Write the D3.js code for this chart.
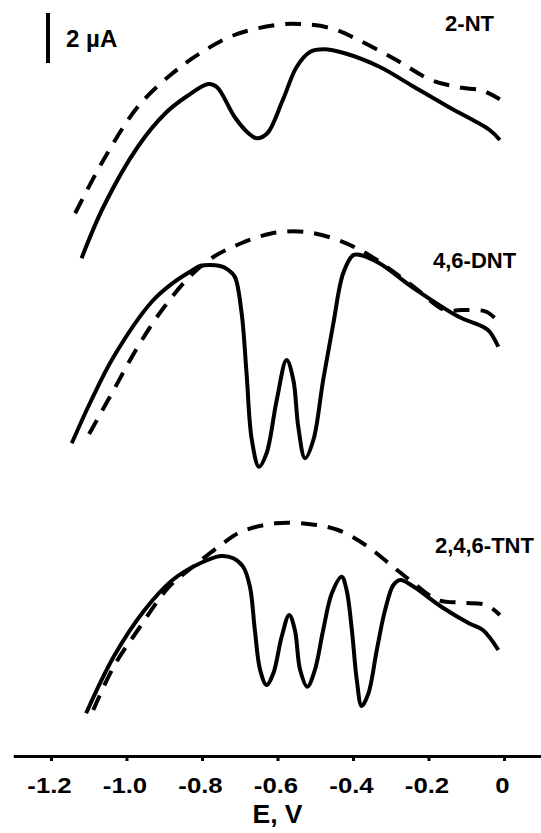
<!DOCTYPE html>
<html>
<head>
<meta charset="utf-8">
<script src="https://cdn.jsdelivr.net/npm/d3@7"></script>
<style>
  html, body { margin: 0; padding: 0; background: #fff; }
  svg { display: block; }
  text { font-family: "Liberation Sans", Arial, Helvetica, sans-serif; font-weight: bold; fill: #000; }
</style>
</head>
<body>
<svg id="chart" width="541" height="833"></svg>
<script>
// ---- Data (E in V, current in µA on a stacked/offset scale) ----
const xTicks = [-1.2, -1.0, -0.8, -0.6, -0.4, -0.2, 0];
const xTickLabels = ["-1.2", "-1.0", "-0.8", "-0.6", "-0.4", "-0.2", "0"];
const xAxisTitle = "E, V";
const scaleBarLabel = "2 µA";
const scaleBarSpan = 2;        // µA
const scaleBarBase = 27.72;    // µA (bottom of scale bar)
const traceLabels = ["2-NT", "4,6-DNT", "2,4,6-TNT"];
const traceLabelLevel = [29.0, 19.52, 8.12]; // µA level of label baselines
const traceLabelE = [-0.156, -0.188, -0.183];  // V at label start

// 2-NT
const ntSolidE = [-1.119, -1.061, -0.970, -0.897, -0.842, -0.783, -0.760, -0.714, -0.677, -0.655, -0.627, -0.586, -0.549, -0.513, -0.477, -0.422, -0.330, -0.239, -0.148, -0.038, -0.011];
const ntSolidI = [19.91, 21.97, 24.37, 25.71, 26.37, 26.88, 26.75, 25.57, 24.91, 24.71, 24.91, 26.24, 27.57, 28.17, 28.27, 28.11, 27.57, 26.77, 25.97, 25.04, 24.64];
const ntDashE = [-1.136, -1.061, -0.970, -0.878, -0.805, -0.714, -0.604, -0.540, -0.458, -0.385, -0.285, -0.193, -0.120, -0.056, -0.011];
const ntDashI = [21.71, 23.84, 25.97, 27.31, 28.11, 28.84, 29.24, 29.28, 29.11, 28.64, 27.84, 27.04, 26.75, 26.61, 26.27];

// 4,6-DNT
const dntSolidE = [-1.145, -1.097, -1.034, -0.933, -0.878, -0.824, -0.805, -0.752, -0.730, -0.713, -0.695, -0.682, -0.668, -0.649, -0.629, -0.602, -0.576, -0.558, -0.545, -0.527, -0.505, -0.479, -0.452, -0.426, -0.399, -0.381, -0.330, -0.239, -0.120, -0.056, -0.038, -0.015];
const dntSolidI = [12.51, 14.11, 15.97, 18.17, 18.91, 19.44, 19.60, 19.60, 19.44, 19.17, 17.71, 15.31, 12.64, 11.57, 12.11, 14.24, 15.84, 15.04, 13.17, 11.91, 12.64, 15.04, 17.31, 19.31, 20.04, 20.04, 19.71, 18.71, 17.57, 17.17, 16.97, 16.37];
const dntDashE = [-1.099, -1.034, -0.970, -0.906, -0.833, -0.769, -0.696, -0.614, -0.531, -0.440, -0.358, -0.239, -0.157, -0.111, -0.047, -0.011];
const dntDashI = [12.88, 14.64, 16.37, 17.84, 19.17, 19.97, 20.51, 20.91, 20.97, 20.64, 20.04, 18.77, 17.84, 17.84, 17.77, 17.31];

// 2,4,6-TNT
const tntSolidE = [-1.107, -1.034, -0.952, -0.878, -0.805, -0.750, -0.717, -0.691, -0.673, -0.660, -0.646, -0.629, -0.611, -0.589, -0.569, -0.554, -0.540, -0.521, -0.501, -0.479, -0.456, -0.430, -0.417, -0.403, -0.390, -0.377, -0.359, -0.337, -0.315, -0.293, -0.275, -0.239, -0.166, -0.093, -0.056, -0.015];
const tntSolidI = [1.71, 3.97, 5.84, 7.04, 7.71, 8.00, 7.91, 7.57, 6.77, 5.04, 3.44, 2.84, 3.31, 4.77, 5.64, 5.04, 3.44, 2.77, 3.44, 5.04, 6.51, 7.17, 6.64, 5.04, 3.04, 2.00, 2.51, 4.24, 5.84, 6.84, 7.04, 6.77, 5.97, 5.31, 5.04, 4.24];
const tntDashE = [-1.088, -1.034, -0.970, -0.887, -0.824, -0.750, -0.696, -0.604, -0.513, -0.440, -0.367, -0.294, -0.239, -0.175, -0.111, -0.047, -0.011];
const tntDashI = [1.84, 3.57, 5.04, 6.77, 7.57, 8.44, 8.97, 9.31, 9.27, 9.04, 8.44, 7.57, 6.91, 6.24, 6.13, 6.04, 5.64];

// ---- Drawing ----
const svg = d3.select("#chart");
const x = d3.scaleLinear().domain([-1.3, 0.1]).range([13.25, 541.75]);
const y = d3.scaleLinear().domain([0, 30]).range([756, 6]);

const zip = (E, I) => E.map((e, i) => [e, I[i]]);
const line = d3.line()
  .x(d => x(d[0]))
  .y(d => y(d[1]))
  .curve(d3.curveCatmullRom.alpha(0.5));

const traces = [
  { E: ntSolidE, I: ntSolidI, dashed: false },
  { E: ntDashE, I: ntDashI, dashed: true },
  { E: dntSolidE, I: dntSolidI, dashed: false },
  { E: dntDashE, I: dntDashI, dashed: true },
  { E: tntSolidE, I: tntSolidI, dashed: false },
  { E: tntDashE, I: tntDashI, dashed: true }
];

svg.append("g").selectAll("path")
  .data(traces)
  .join("path")
  .attr("d", t => line(zip(t.E, t.I)))
  .attr("fill", "none")
  .attr("stroke", "#000")
  .attr("stroke-width", 4)
  .attr("stroke-linejoin", "round")
  .attr("stroke-dasharray", t => t.dashed ? "16,11" : null);

// Trace labels
svg.append("g").selectAll("text")
  .data(traceLabels)
  .join("text")
  .attr("x", (d, i) => x(traceLabelE[i]))
  .attr("y", (d, i) => y(traceLabelLevel[i]))
  .attr("font-size", 22)
  .text(d => d);

// Scale bar
svg.append("line")
  .attr("x1", x(-1.208)).attr("x2", x(-1.208))
  .attr("y1", y(scaleBarBase)).attr("y2", y(scaleBarBase + scaleBarSpan))
  .attr("stroke", "#000").attr("stroke-width", 4);
svg.append("text")
  .attr("x", x(-1.160))
  .attr("y", y(scaleBarBase + scaleBarSpan * 0.32))
  .attr("font-size", 24)
  .text(scaleBarLabel);

// X axis
const axis = d3.axisBottom(x)
  .tickValues(xTicks)
  .tickSize(5)
  .tickSizeOuter(0)
  .tickFormat((d, i) => xTickLabels[i]);

const gx = svg.append("g")
  .attr("transform", `translate(0, ${y(0)})`)
  .call(axis);
gx.select(".domain").attr("stroke", "#000").attr("stroke-width", 3);
gx.selectAll(".tick line").attr("stroke", "#000").attr("stroke-width", 3);
gx.selectAll(".tick text")
  .attr("font-family", "Liberation Sans, Arial, sans-serif")
  .attr("font-weight", "bold")
  .attr("font-size", 22)
  .attr("fill", "#000")
  .attr("y", 0)
  .attr("dy", 0)
  .attr("transform", "translate(-2,37) scale(1.17,1)");

svg.append("text")
  .attr("text-anchor", "middle")
  .attr("font-size", 25)
  .attr("transform", `translate(${x(-0.6)}, 823) scale(1.06,1)`)
  .text(xAxisTitle);
</script>
</body>
</html>
